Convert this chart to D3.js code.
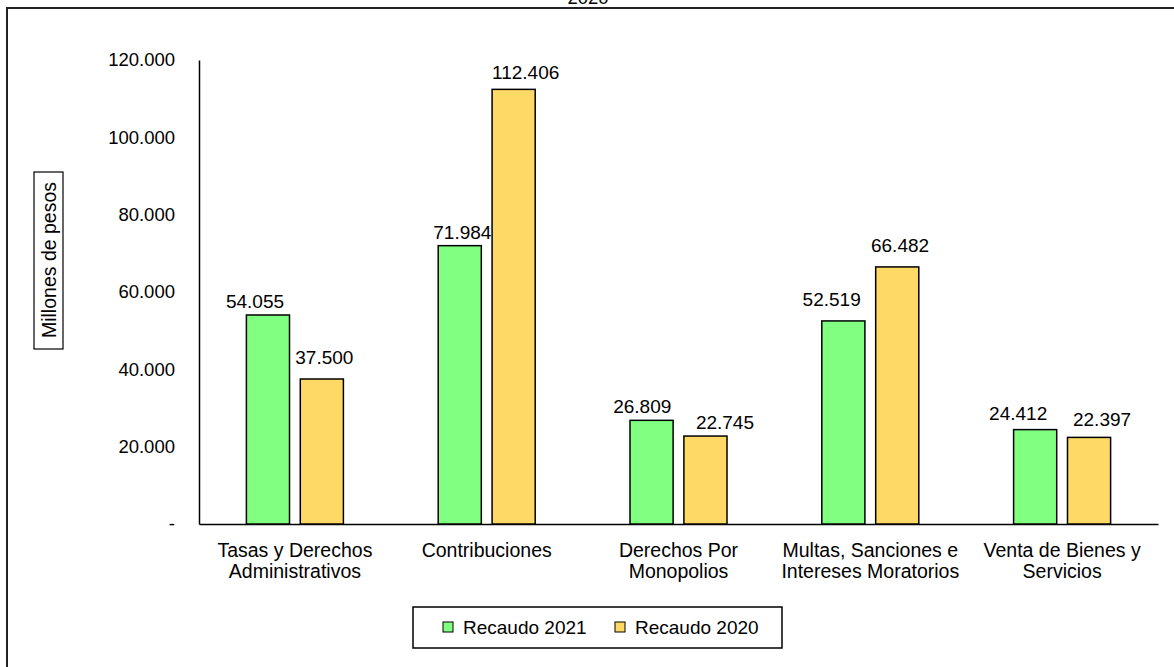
<!DOCTYPE html>
<html><head><meta charset="utf-8">
<script src="https://d3js.org/d3.v7.min.js"></script>
<style>body{margin:0;background:#fff}svg{display:block;font-family:"Liberation Sans",Arial,sans-serif}</style>
</head><body>
<svg id="c" width="1174" height="667"></svg>
<script>
const categories = [["Tasas y Derechos","Administrativos"],["Contribuciones"],["Derechos Por","Monopolios"],["Multas, Sanciones e","Intereses Moratorios"],["Venta de Bienes y","Servicios"]];
const seriesNames = ["Recaudo 2021","Recaudo 2020"];
const recaudo2021 = [54055, 71984, 26809, 52519, 24412];
const recaudo2020 = [37500, 112406, 22745, 66482, 22397];
const yTicks = [0,20000,40000,60000,80000,100000,120000];
const colors = ["#80FF80","#FFD966"];
// label placement nudges (dx, gap above bar) per category, per series
const labelNudge = [[[-13,7],[2.5,15]],[[2.6,7],[12,10.5]],[[-9.3,7],[19.5,7.3]],[[-11.7,15],[2.8,15]],[[-17,10],[13,11.7]]];
const FS = 18.5;

const svg = d3.select("#c");
const fmt = v => v===0 ? "-" : d3.format(",.0f")(v).replace(/,/g,".");

// outer frame
svg.append("rect").attr("x",7).attr("y",8).attr("width",1200).attr("height",700)
  .attr("fill","none").attr("stroke","#222").attr("stroke-width",2);
svg.append("text").attr("x",588).attr("y",4).attr("text-anchor","middle")
  .attr("font-size",FS).attr("fill","#000").text("2020");

const x0 = d3.scaleBand().domain(d3.range(categories.length)).range([199,1158]);
const y = d3.scaleLinear().domain([0,120000]).range([524,60]);

// y axis
const yAxis = d3.axisLeft(y).tickValues(yTicks).tickSize(0).tickPadding(24).tickFormat(fmt);
const gy = svg.append("g").attr("transform","translate(199,0)").call(yAxis);
gy.attr("font-size",FS).attr("font-family","Liberation Sans, Arial, sans-serif");
gy.select(".domain").attr("stroke","#000").attr("stroke-width",1.5);
gy.selectAll("text").attr("fill","#000");

// x axis
const xAxis = d3.axisBottom(x0).tickSize(0).tickFormat(()=>"");
const gx = svg.append("g").attr("transform","translate(0,524)").call(xAxis);
gx.select(".domain").attr("stroke","#000").attr("stroke-width",1.5);
gx.selectAll(".tick").each(function(d){
  const t = d3.select(this).append("text").attr("text-anchor","middle").attr("font-size",19.5).attr("fill","#000")
    .attr("font-family","Liberation Sans, Arial, sans-serif");
  categories[d].forEach((line,i)=>t.append("tspan").attr("x",0).attr("y",33+i*21).text(line));
});

const x1 = d3.scaleBand().domain([0,1]).range([-48.5,48.5]).paddingInner(0.2);
const data = categories.map((c,i)=>[recaudo2021[i],recaudo2020[i]]);
const groups = svg.append("g").selectAll("g").data(data).join("g")
  .attr("transform",(d,i)=>`translate(${x0(i)+x0.bandwidth()/2},0)`);
groups.selectAll("rect").data(d=>d).join("rect")
  .attr("x",(d,j)=>x1(j)).attr("width",x1.bandwidth())
  .attr("y",d=>y(d)).attr("height",d=>y(0)-y(d))
  .attr("fill",(d,j)=>colors[j]).attr("stroke","#000").attr("stroke-width",1.5);
groups.each(function(d,i){
  d3.select(this).selectAll("text.v").data(d).join("text").attr("class","v")
    .attr("x",(v,j)=>x1(j)+x1.bandwidth()/2+labelNudge[i][j][0])
    .attr("y",(v,j)=>y(v)-labelNudge[i][j][1])
    .attr("text-anchor","middle").attr("font-size",19).attr("fill","#000").text(v=>fmt(v));
});

// y title
svg.append("rect").attr("x",34).attr("y",172).attr("width",29).attr("height",177)
  .attr("fill","#fff").attr("stroke","#000").attr("stroke-width",1.2);
svg.append("text").attr("transform","translate(56,260) rotate(-90)").attr("text-anchor","middle")
  .attr("font-size",19.5).attr("fill","#000").text("Millones de pesos");

// legend
svg.append("rect").attr("x",413).attr("y",607).attr("width",369).attr("height",41)
  .attr("fill","#fff").attr("stroke","#000").attr("stroke-width",1.5);
const legX = [443,615];
const lg = svg.append("g").selectAll("g").data(seriesNames).join("g")
  .attr("transform",(d,i)=>`translate(${legX[i]},622)`);
lg.append("rect").attr("width",10).attr("height",10).attr("fill",(d,i)=>colors[i]).attr("stroke","#000").attr("stroke-width",1);
lg.append("text").attr("x",20).attr("y",11.5).attr("font-size",19).attr("fill","#000").text(d=>d);
</script>
</body></html>
